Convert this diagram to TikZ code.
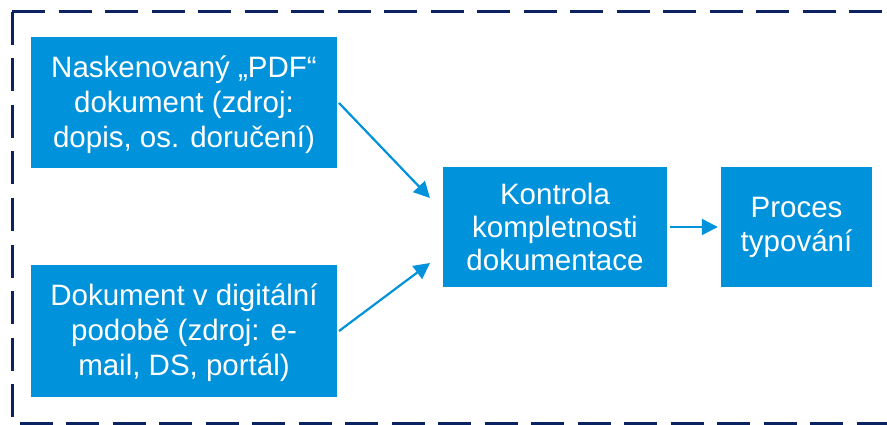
\documentclass[tikz,border=0pt]{standalone}
\usepackage{fontspec}
\setmainfont{Liberation Sans}
\usetikzlibrary{arrows.meta}
\definecolor{boxblue}{HTML}{0092DA}
\definecolor{navy}{HTML}{0B2461}
\tikzset{
  bluebox/.style={fill=boxblue, draw=none, text=white, align=center, inner sep=0pt,
    font=\fontsize{29.5}{35}\selectfont},
  conn/.style={draw=boxblue, line width=2.2pt, -{Triangle[length=16pt,width=16pt]}},
  frame/.style={draw=navy, line width=3pt, dash pattern=on 33pt off 13.5pt}
}
\begin{document}
\begin{tikzpicture}[x=1pt,y=-1pt]
\useasboundingbox (0,0) rectangle (887,425);
\draw[frame] (12,12) -- (900,12);
\draw[frame] (12,12) -- (12,423) -- (900,423);
\node[bluebox, minimum width=306pt, minimum height=131pt] (scan) at (184,102.5) {};
\node[text=white, align=center, inner sep=0pt, font=\fontsize{29.5}{35}\selectfont] (scantxt) at ([yshift=-2.5pt]scan.center)
  {Naskenovaný „PDF“\\dokument (zdroj:\\dopis, os. doručení)};
\node[bluebox, minimum width=306pt, minimum height=132pt] (digi) at (184,331) {};
\node[text=white, align=center, inner sep=0pt, font=\fontsize{29.5}{35}\selectfont] (digitxt) at ([yshift=-1.5pt]digi.center)
  {Dokument v digitální\\podobě (zdroj: e-\\mail, DS, portál)};
\node[bluebox, minimum width=224pt, minimum height=120pt, font=\fontsize{29.5}{33}\selectfont] (ctrl) at (555,227)
  {Kontrola\\kompletnosti\\dokumentace};
\node[bluebox, minimum width=151pt, minimum height=120pt, font=\fontsize{29.5}{34}\selectfont] (proc) at (796.5,227)
  {Proces\\typování};
\coordinate (a1s) at (339,103);
\coordinate (a1e) at (430,198);
\coordinate (a2s) at (339,331);
\coordinate (a2e) at (430,263);
\draw[conn] (a1s) -- (a1e);
\draw[conn] (a2s) -- (a2e);
\draw[conn] ([xshift=3pt]ctrl.east) -- ([xshift=-3pt]proc.west);
\end{tikzpicture}
\end{document}
